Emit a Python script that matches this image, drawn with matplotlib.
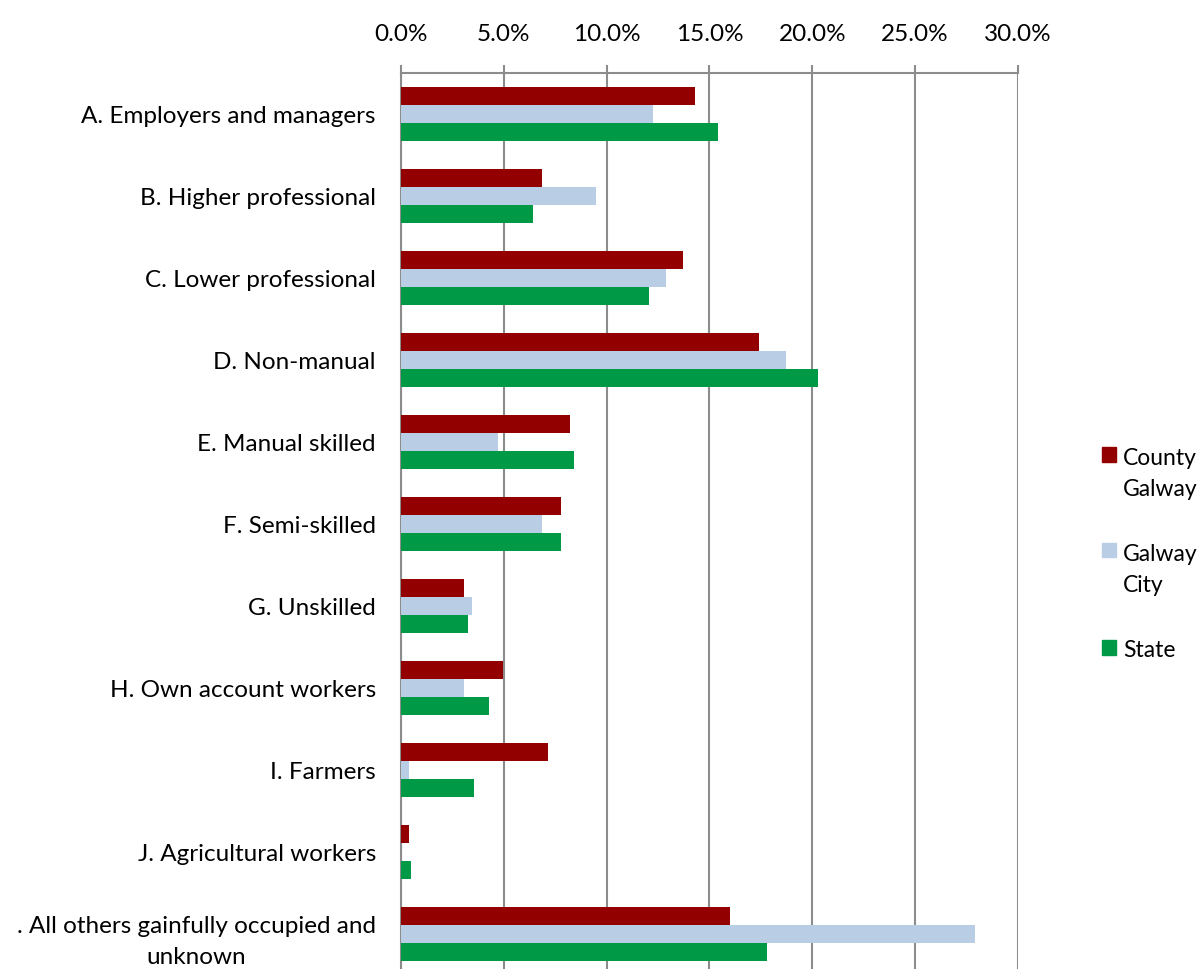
import matplotlib
matplotlib.use('Agg')
import numpy as np
import matplotlib.patches as mpatches
from matplotlib import pyplot as plt
from matplotlib.legend_handler import HandlerPatch
from matplotlib.ticker import FuncFormatter

categories = ['A. Employers and managers', 'B. Higher professional', 'C. Lower professional',
              'D. Non-manual', 'E. Manual skilled', 'F. Semi-skilled', 'G. Unskilled',
              'H. Own account workers', 'I. Farmers', 'J. Agricultural workers',
              '. All others gainfully occupied and\nunknown']
county_galway = [14.3, 6.85, 13.7, 17.4, 8.2, 7.8, 3.05, 4.95, 7.15, 0.4, 16.0]
galway_city = [12.25, 9.5, 12.9, 18.7, 4.7, 6.85, 3.45, 3.05, 0.4, 0.0, 27.9]
state = [15.4, 6.4, 12.05, 20.3, 8.4, 7.8, 3.25, 4.3, 3.55, 0.5, 17.8]

series = [('County\nGalway', county_galway, '#930000'),
          ('Galway\nCity', galway_city, '#b9cde5'),
          ('State', state, '#009a46')]

FS = 17.5
LEG_FS = 16.5
plt.rcParams['font.family'] = ['Lato', 'DejaVu Sans']

fig = plt.figure(figsize=(12.04, 9.70), dpi=100)
ax = fig.add_axes([0.333, -0.006, 0.5125, 0.930])

y = np.arange(len(categories))
bar_h = 0.22
for i, (name, values, color) in enumerate(series):
    ax.barh(y + (i - 1) * bar_h, values, height=bar_h, color=color, zorder=3)

ax.set_ylim(len(categories) - 0.5, -0.5)
ax.set_xlim(0, 30)
ax.set_xticks(np.arange(0, 31, 5))
ax.xaxis.set_major_formatter(FuncFormatter(lambda v, p: '%.1f%%' % v))
ax.xaxis.tick_top()
ax.tick_params(axis='x', length=6, width=1.5, color='#8c8c8c', labelsize=FS, pad=15)
ax.set_yticks(y)
ax.set_yticklabels(categories, fontsize=FS, linespacing=1.6, multialignment='center')
ax.tick_params(axis='y', length=0, pad=18)
ax.grid(axis='x', color='#8c8c8c', linewidth=1.5, zorder=0)

for side in ['right', 'bottom']:
    ax.spines[side].set_visible(False)
for side in ['top', 'left']:
    ax.spines[side].set_color('#8c8c8c')
    ax.spines[side].set_linewidth(1.5)


# legend squares sit beside the first line of each label, as in Excel
def top_aligned(shift):
    def make(legend, orig_handle, xdescent, ydescent, width, height, fontsize):
        return mpatches.Rectangle((-xdescent, -ydescent + shift), width, height)
    return HandlerPatch(patch_func=make)


handles = []
handler_map = {}
for name, values, color in series:
    patch = mpatches.Patch(color=color)
    handles.append(patch)
    handler_map[patch] = top_aligned(LEG_FS * 0.85 * name.count('\n'))

ax.legend(handles, [s[0] for s in series], handler_map=handler_map,
          loc='upper left', bbox_to_anchor=(1.121, 0.595), frameon=False,
          handlelength=0.62, handleheight=0.62, handletextpad=0.3, labelspacing=1.9,
          borderaxespad=0, prop={'size': LEG_FS})
for t in ax.get_legend().get_texts():
    t.set_linespacing(1.6)

fig.savefig('out.png', dpi=100)
